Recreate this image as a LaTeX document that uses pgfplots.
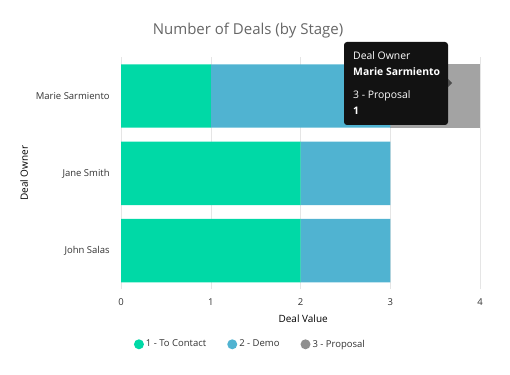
\documentclass[border=0pt]{standalone}
\usepackage{pgfplots}
\pgfplotsset{compat=1.18}
\usepackage{fontspec}
\setmainfont{Open Sans}
\definecolor{cgreen}{HTML}{00D9A6}
\definecolor{cblue}{HTML}{50B3D1}
\definecolor{cgray}{HTML}{A3A3A3}
\definecolor{cgrayleg}{HTML}{8E8E8E}
\definecolor{ttl}{HTML}{666666}
\definecolor{lbl}{HTML}{333333}
\definecolor{tipbg}{HTML}{121212}
\begin{document}
\begin{tikzpicture}[x=1pt,y=1pt]
\path[use as bounding box] (0,0) rectangle (510,374);
\begin{axis}[
  at={(135,109.5)}, anchor=south west, scale only axis, width=359pt, height=232pt,
  xbar stacked, bar width=0.82,
  xmin=0, xmax=4, ymin=-0.5, ymax=2.5,
  ytick={0,1,2}, yticklabels={John Salas, Jane Smith, Marie Sarmiento},
  xtick={0,1,2,3,4},
  axis line style={draw=none},
  major tick length=0pt,
  xmajorgrids, grid style={draw=black!10, line width=0.8pt},
  tick label style={font=\fontsize{9.5}{11}\selectfont, text=lbl},
  /pgf/number format/assume math mode=true,
  xticklabel style={yshift=-6pt}, yticklabel style={xshift=-8pt},
  xlabel={Deal Value}, ylabel={Deal Owner},
  label style={font=\fontsize{9.5}{11}\selectfont, text=lbl},
  every axis x label/.style={at={(axis description cs:0.507,-0.125)}, anchor=center},
  every axis y label/.style={at={(axis description cs:-0.27,0.5)}, anchor=center, rotate=90},
  legend columns=3,
  legend style={at={(axis description cs:0.36,-0.237)}, anchor=center, draw=none, fill=none,
    font=\fontsize{9.5}{11}\selectfont, text=lbl,
    /tikz/every even column/.append style={column sep=19pt}},
]
\addplot[fill=cgreen, draw=none, legend image code/.code={\fill[cgreen] (0pt,0pt) circle (5pt);}]
  coordinates {(2,0) (2,1) (1,2)};
\addplot[fill=cblue, draw=none, legend image code/.code={\fill[cblue] (0pt,0pt) circle (5pt);}]
  coordinates {(1,0) (1,1) (2,2)};
\addplot[fill=cgray, draw=none, legend image code/.code={\fill[cgrayleg] (0pt,0pt) circle (5pt);}]
  coordinates {(0,0) (0,1) (1,2)};
\legend{1 - To Contact, 2 - Demo, 3 - Proposal}
\end{axis}
\node[font=\fontsize{15}{17}\selectfont, text=ttl] at (248,343) {Number of Deals (by Stage)};
% tooltip
\fill[tipbg, rounded corners=3pt] (344,332) rectangle (448,249);
\fill[black!70] (448,295) -- (452,291) -- (448,287) -- cycle;
\node[anchor=base west, inner sep=0, text=white, font=\fontsize{10.4}{12}\selectfont] at (353,314) {Deal Owner};
\node[anchor=base west, inner sep=0, text=white, font=\fontsize{10.4}{12}\selectfont\bfseries] at (353,298) {Marie Sarmiento};
\node[anchor=base west, inner sep=0, text=white, font=\fontsize{10.4}{12}\selectfont] at (353,275) {3 - Proposal};
\node[anchor=base west, inner sep=0, text=white, font=\fontsize{10.4}{12}\selectfont\bfseries] at (353,259) {1};
\end{tikzpicture}
\end{document}
